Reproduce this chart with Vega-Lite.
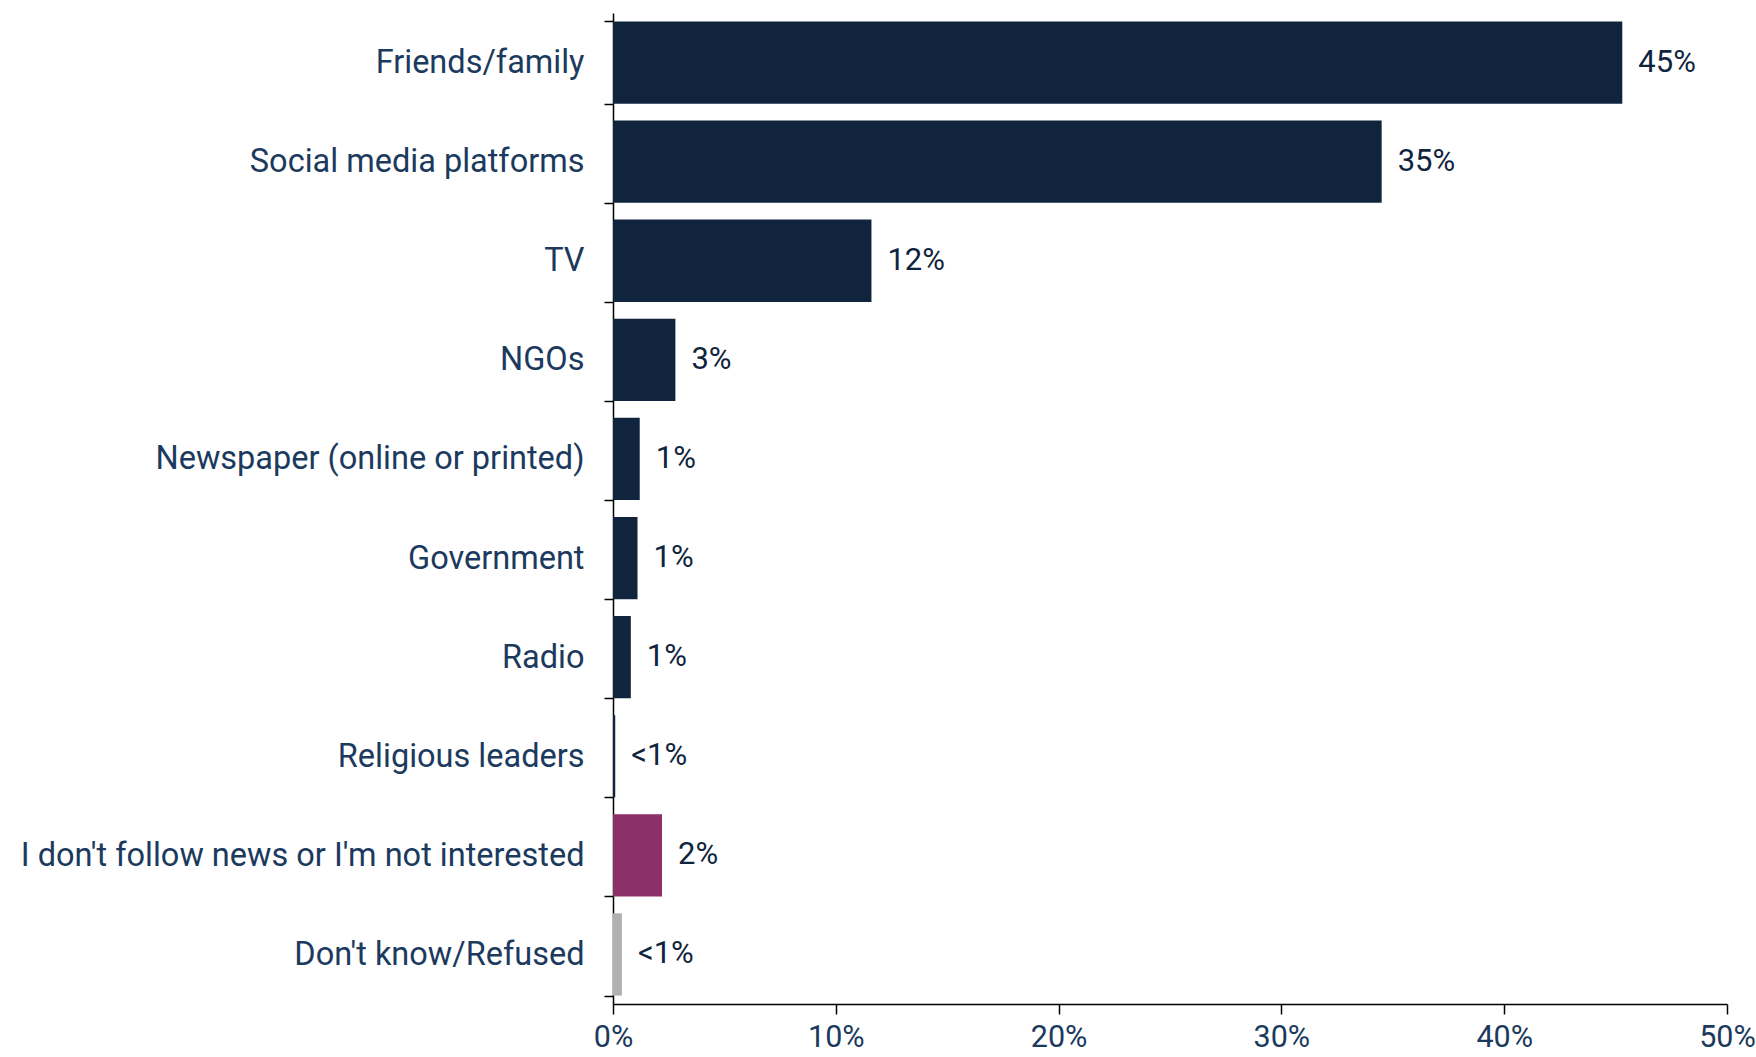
{
  "$schema": "https://vega.github.io/schema/vega-lite/v6.json",
  "autosize": {"type": "none"},
  "padding": {"left": 613, "top": 13, "right": 29, "bottom": 53},
  "width": 1114,
  "height": 991,
  "background": "white",
  "config": {"view": {"stroke": null}, "font": "Roboto"},
  "data": {
    "values": [
      {"source": "Friends/family", "value": 45.3, "label": "45%", "group": "main"},
      {"source": "Social media platforms", "value": 34.5, "label": "35%", "group": "main"},
      {"source": "TV", "value": 11.6, "label": "12%", "group": "main"},
      {"source": "NGOs", "value": 2.8, "label": "3%", "group": "main"},
      {"source": "Newspaper (online or printed)", "value": 1.2, "label": "1%", "group": "main"},
      {"source": "Government", "value": 1.1, "label": "1%", "group": "main"},
      {"source": "Radio", "value": 0.8, "label": "1%", "group": "main"},
      {"source": "Religious leaders", "value": 0.1, "label": "<1%", "group": "main"},
      {"source": "I don't follow news or I'm not interested", "value": 2.2, "label": "2%", "group": "none"},
      {"source": "Don't know/Refused", "value": 0.4, "label": "<1%", "group": "dk"}
    ]
  },
  "encoding": {
    "y": {
      "field": "source",
      "type": "nominal",
      "sort": null,
      "scale": {"paddingInner": 0.17, "paddingOuter": 0.085},
      "axis": {
        "title": null,
        "tickBand": "extent",
        "domainColor": "#000000",
        "domainWidth": 1.5,
        "tickColor": "#000000",
        "tickWidth": 1.5,
        "tickSize": 9,
        "labelPadding": 20,
        "labelFontSize": 32.5,
        "labelColor": "#1b3a5e",
        "labelFont": "Roboto",
        "labelLimit": 700
      }
    },
    "x": {
      "field": "value",
      "type": "quantitative",
      "scale": {"domain": [0, 50], "nice": false},
      "axis": {
        "title": null,
        "values": [0, 10, 20, 30, 40, 50],
        "labelExpr": "datum.value + '%'",
        "grid": false,
        "domainColor": "#000000",
        "domainWidth": 1.5,
        "tickColor": "#000000",
        "tickWidth": 1.5,
        "tickSize": 10,
        "labelPadding": 8,
        "labelFontSize": 30.5,
        "labelColor": "#1b3a5e",
        "labelFont": "Roboto",
        "labelFlush": false
      }
    }
  },
  "layer": [
    {
      "mark": {"type": "bar"},
      "encoding": {
        "color": {
          "field": "group",
          "type": "nominal",
          "scale": {"domain": ["main", "none", "dk"], "range": ["#10243d", "#8b3068", "#b0b0b0"]},
          "legend": null
        }
      }
    },
    {
      "mark": {"type": "text", "align": "left", "baseline": "middle", "dx": 16, "fontSize": 31, "color": "#10243d", "font": "Roboto"},
      "encoding": {"text": {"field": "label"}}
    }
  ]
}
